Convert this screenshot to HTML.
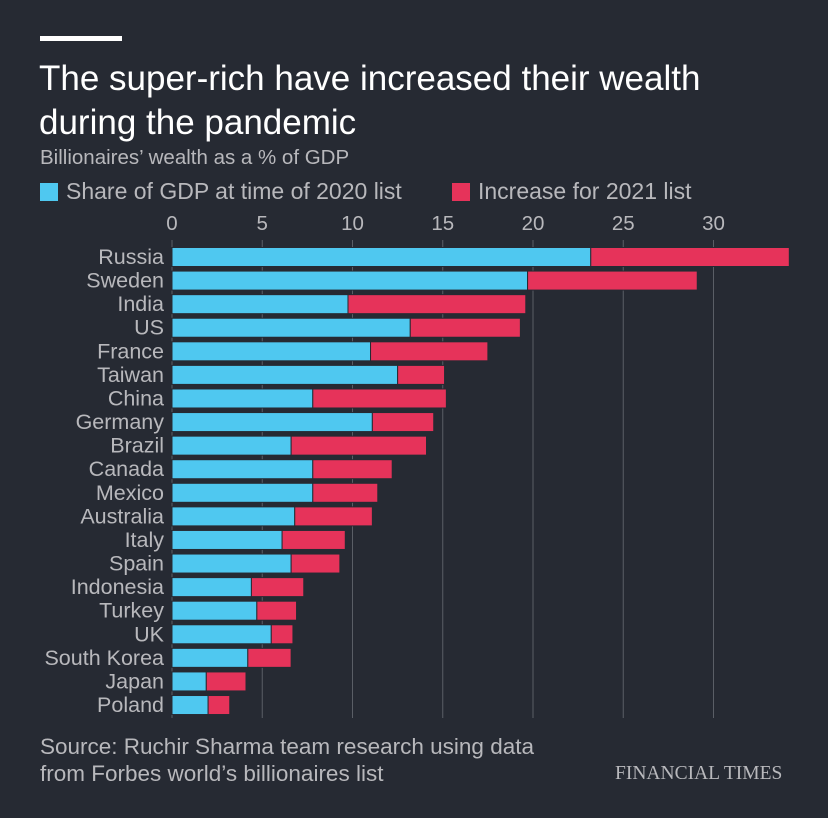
<!DOCTYPE html>
<html><head><meta charset="utf-8"><style>
body{margin:0;background:#262a33;}
#c{position:relative;width:828px;height:818px;background:#262a33;font-family:"Liberation Sans",sans-serif;overflow:hidden}
.t{position:absolute;white-space:nowrap}
</style></head><body>
<div id="c">
<div class="t" style="left:40px;top:36px;width:82px;height:5px;background:#fff"></div>
<div class="t" style="left:39px;top:57px;font-size:35px;line-height:44px;color:#fff">The super-rich have increased their wealth<br>during the pandemic</div>
<div class="t" style="left:40px;top:146px;font-size:20.5px;color:#b8b8bc">Billionaires’ wealth as a % of GDP</div>
<div class="t" style="left:40px;top:178px;font-size:23px;color:#b8b8bc"><span style="display:inline-block;width:18px;height:18px;background:#4fc8f0;vertical-align:-2px;margin-right:8px"></span>Share of GDP at time of 2020 list</div>
<div class="t" style="left:452px;top:178px;font-size:23px;color:#b8b8bc"><span style="display:inline-block;width:18px;height:18px;background:#e6335a;vertical-align:-2px;margin-right:8px"></span>Increase for 2021 list</div>
<svg id="s" width="828" height="818" style="position:absolute;left:0;top:0"></svg>
<div class="t" style="left:40px;top:733px;font-size:22.5px;line-height:27px;color:#b8b8bc">Source: Ruchir Sharma team research using data<br>from Forbes world’s billionaires list</div>
<div class="t" style="left:615px;top:763px;font-family:'Liberation Serif',serif;font-size:19.5px;color:#b8b8bc">FINANCIAL TIMES</div>
</div>
<script>
const countries=["Russia","Sweden","India","US","France","Taiwan","China","Germany","Brazil","Canada","Mexico","Australia","Italy","Spain","Indonesia","Turkey","UK","South Korea","Japan","Poland"];
const share2020=[23.2,19.7,9.75,13.2,11.0,12.5,7.8,11.1,6.6,7.8,7.8,6.8,6.1,6.6,4.4,4.7,5.5,4.2,1.9,2.0];
const total2021=[34.2,29.1,19.6,19.3,17.5,15.1,15.2,14.5,14.1,12.2,11.4,11.1,9.6,9.3,7.3,6.9,6.7,6.6,4.1,3.2];
const ticks=[0,5,10,15,20,25,30];
const NS="http://www.w3.org/2000/svg",s=document.getElementById('s');
const x=v=>172+v*18.05, y=i=>257+i*23.58;
function mk(t,a){const e=document.createElementNS(NS,t);for(const k in a)e.setAttribute(k,a[k]);s.appendChild(e);return e;}
ticks.forEach(t=>{
 const l=mk('line',{x1:x(t),x2:x(t),y1:240,y2:718,stroke:'#5a5e66','stroke-width':1});
 
 
 const tx=mk('text',{x:x(t),y:230,'text-anchor':'middle',fill:'#b8b8bc','font-size':20.5,'font-family':'Liberation Sans, sans-serif'});
 tx.textContent=t;
 
 
});
countries.forEach((c,i)=>{
 const cy=y(i);
 const b=mk('rect',{x:x(0),y:cy-9.5,width:x(share2020[i])-x(0),height:19,fill:'#4fc8f0',stroke:'#262a33','stroke-width':1});
 
 
 const r=mk('rect',{x:x(share2020[i]),y:cy-9.5,width:x(total2021[i])-x(share2020[i]),height:19,fill:'#e6335a',stroke:'#262a33','stroke-width':1});
 
 
 const t=mk('text',{x:164,y:cy+7,'text-anchor':'end',fill:'#b8b8bc','font-size':21.5,'font-family':'Liberation Sans, sans-serif'});
 t.textContent=c;
 
 
});
</script>
</body></html>
